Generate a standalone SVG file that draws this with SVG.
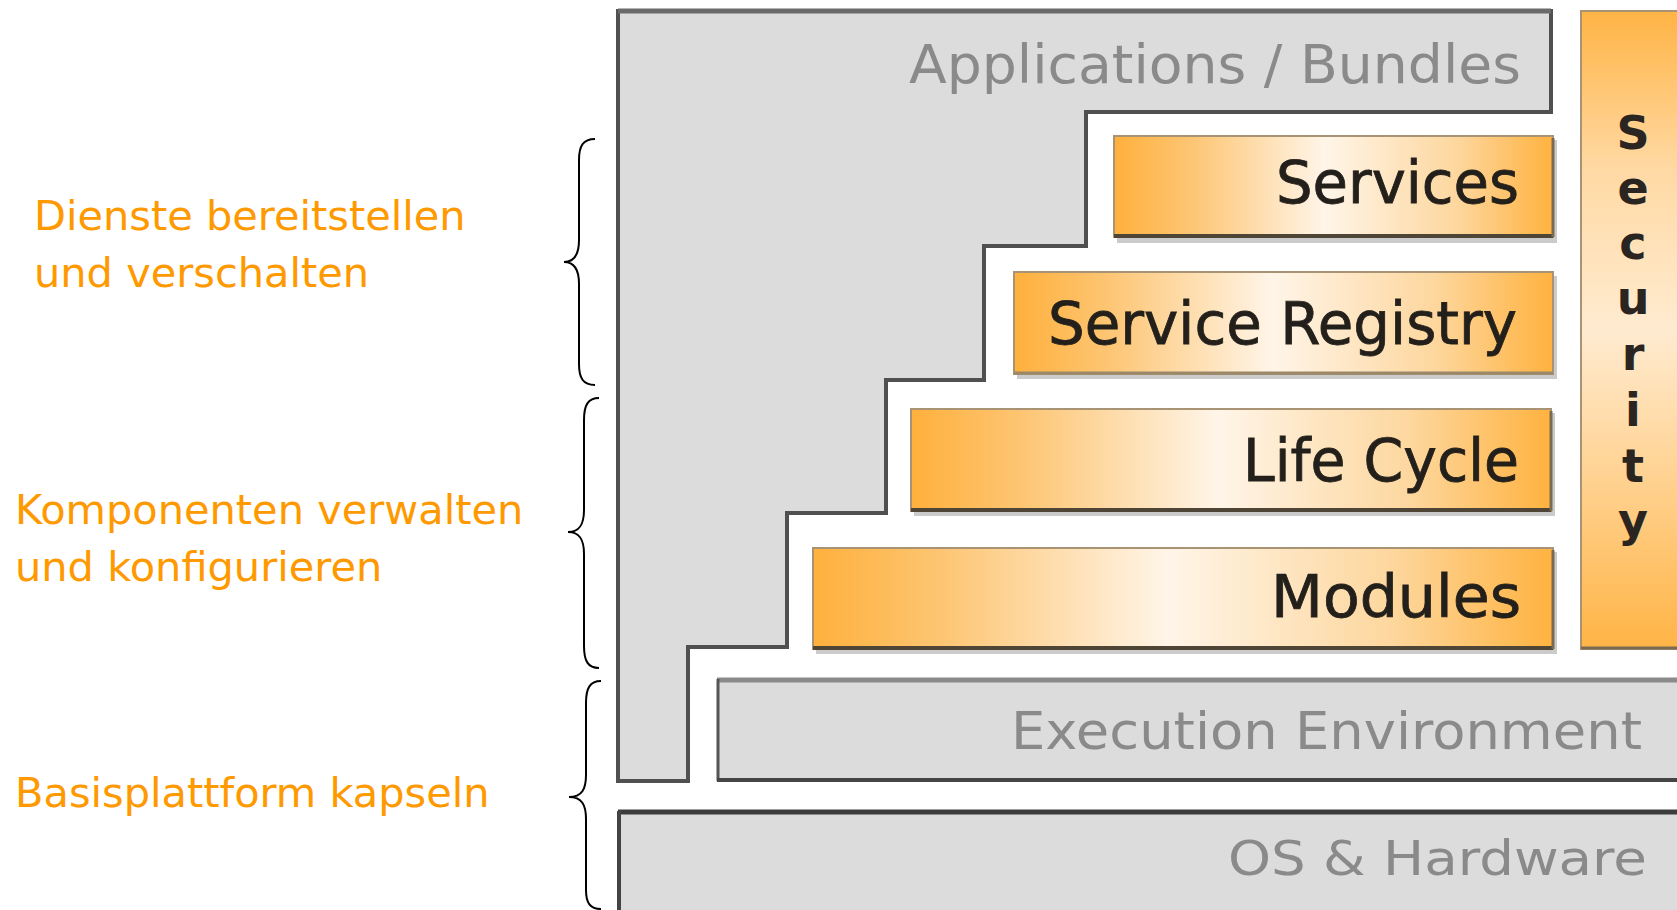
<svg xmlns="http://www.w3.org/2000/svg" width="1677" height="910" viewBox="0 0 1677 910">
<defs>
<linearGradient id="og" x1="0" y1="0" x2="1" y2="0">
<stop offset="0" stop-color="#FFB03C"/>
<stop offset="0.18" stop-color="#FDC675"/>
<stop offset="0.48" stop-color="#FFF5E8"/>
<stop offset="0.78" stop-color="#FDD79E"/>
<stop offset="1" stop-color="#FFB23F"/>
</linearGradient>
<linearGradient id="sg" x1="0" y1="0" x2="0" y2="1">
<stop offset="0" stop-color="#FFB445"/>
<stop offset="0.25" stop-color="#FFD9A4"/>
<stop offset="0.5" stop-color="#FFEBD0"/>
<stop offset="0.75" stop-color="#FFD08C"/>
<stop offset="1" stop-color="#FFB445"/>
</linearGradient>
<style>
.grey{fill:#dcdcdc}
.gt{font-family:"DejaVu Sans",Verdana,sans-serif;fill:#8a8a8a;text-anchor:end}
.bt{font-family:"DejaVu Sans",Verdana,sans-serif;fill:#231f1a;stroke:#231f1a;stroke-width:0.8;font-size:58px;text-anchor:end}
.ot{font-family:"DejaVu Sans",Verdana,sans-serif;fill:#FF9900;font-size:41.5px}
.box{fill:url(#og);stroke:#a89474;stroke-width:2}
.shadow{fill:#8c8c8c;opacity:0.45}
.dark{stroke:#4e4536;stroke-width:4;fill:none}
.brace{fill:none;stroke:#000;stroke-width:2}
.sec{font-family:"DejaVu Sans",Verdana,sans-serif;font-size:46px;font-weight:bold;fill:#2a2520;text-anchor:middle}
</style>
</defs>
<rect width="1677" height="910" fill="#ffffff"/>

<g id="applications">
<path class="grey" d="M618,11 H1551 V112 H1086 V246 H984 V380 H886 V513 H787 V647 H688 V781 H618 Z" stroke="#505050" stroke-width="4"/>
<line x1="618" y1="11" x2="1551" y2="11" stroke="#6a6a6a" stroke-width="5"/>
<text class="gt" x="1521" y="83" font-size="53" textLength="612" lengthAdjust="spacingAndGlyphs">Applications / Bundles</text>
</g>

<g id="services">
<rect class="shadow" x="1117" y="140" width="440" height="103"/>
<rect class="box" x="1114" y="136" width="439" height="101"/>
<line class="dark" x1="1114" y1="236" x2="1553" y2="236"/>
<line x1="1553" y1="138" x2="1553" y2="237" stroke="#7a6a52" stroke-width="3"/>
<text class="bt" x="1519" y="203" textLength="243" lengthAdjust="spacingAndGlyphs">Services</text>
</g>

<g id="service-registry">
<rect class="shadow" x="1017" y="276" width="540" height="103"/>
<rect class="box" x="1014" y="272" width="539" height="102"/>
<line x1="1014" y1="373" x2="1553" y2="373" stroke="#9a8868" stroke-width="3"/>
<text class="bt" x="1517" y="344" textLength="469" lengthAdjust="spacingAndGlyphs">Service Registry</text>
</g>

<g id="life-cycle">
<rect class="shadow" x="914" y="413" width="641" height="103"/>
<rect class="box" x="911" y="409" width="640" height="102"/>
<line class="dark" x1="911" y1="510" x2="1551" y2="510"/>
<line x1="1551" y1="411" x2="1551" y2="511" stroke="#7a6a52" stroke-width="3"/>
<text class="bt" x="1519" y="481" textLength="276" lengthAdjust="spacingAndGlyphs">Life Cycle</text>
</g>

<g id="modules">
<rect class="shadow" x="816" y="552" width="741" height="102"/>
<rect class="box" x="813" y="548" width="740" height="101"/>
<line class="dark" x1="813" y1="648" x2="1553" y2="648"/>
<line x1="1553" y1="550" x2="1553" y2="649" stroke="#7a6a52" stroke-width="3"/>
<text class="bt" x="1521" y="617" textLength="250" lengthAdjust="spacingAndGlyphs">Modules</text>
</g>

<g id="security">
<rect x="1581" y="11" width="100" height="638" fill="url(#sg)" stroke="#a89474" stroke-width="2"/>
<line x1="1581" y1="648" x2="1677" y2="648" stroke="#7a6a52" stroke-width="3"/>
<text class="sec" x="1633" y="149">S</text>
<text class="sec" x="1633" y="204">e</text>
<text class="sec" x="1633" y="259">c</text>
<text class="sec" x="1633" y="314">u</text>
<text class="sec" x="1633" y="370">r</text>
<text class="sec" x="1633" y="426">i</text>
<text class="sec" x="1633" y="482">t</text>
<text class="sec" x="1633" y="536">y</text>
</g>

<g id="execution-environment">
<rect class="grey" x="717" y="679" width="980" height="102"/>
<line x1="717" y1="680" x2="1677" y2="680" stroke="#8a8a8a" stroke-width="5"/>
<line x1="718" y1="679" x2="718" y2="781" stroke="#555" stroke-width="3"/>
<line x1="717" y1="780" x2="1677" y2="780" stroke="#454545" stroke-width="4"/>
<text class="gt" x="1642" y="749" font-size="51" textLength="631" lengthAdjust="spacingAndGlyphs">Execution Environment</text>
</g>

<g id="os-hardware">
<rect class="grey" x="618" y="811" width="1070" height="110"/>
<line x1="618" y1="812" x2="1677" y2="812" stroke="#3c3c3c" stroke-width="5"/>
<line x1="619" y1="811" x2="619" y2="910" stroke="#444" stroke-width="4"/>
<text class="gt" x="1647" y="875" font-size="48" textLength="419" lengthAdjust="spacingAndGlyphs">OS &amp; Hardware</text>
</g>

<g id="label-dienste">
<text class="ot" x="34" y="230">Dienste bereitstellen</text>
<text class="ot" x="34" y="287">und verschalten</text>
</g>
<g id="label-komponenten">
<text class="ot" x="15" y="524">Komponenten verwalten</text>
<text class="ot" x="15" y="581">und konfigurieren</text>
</g>
<g id="label-basis">
<text class="ot" x="15" y="807">Basisplattform kapseln</text>
</g>

<g id="braces">
<path class="brace" d="M595,139 C583,139 579,146 579,160 V240 C579,254 575,262 564,262 C575,262 579,270 579,284 V364 C579,378 583,385 595,385"/>
<path class="brace" d="M599,398 C588,398 584,405 584,420 V510 C584,524 580,532 568,532 C580,532 584,540 584,554 V646 C584,661 588,668 599,668"/>
<path class="brace" d="M601,681 C590,681 586,688 586,703 V775 C586,789 582,797 569,797 C582,797 586,805 586,819 V890 C586,903 590,909 601,909"/>
</g>
</svg>
